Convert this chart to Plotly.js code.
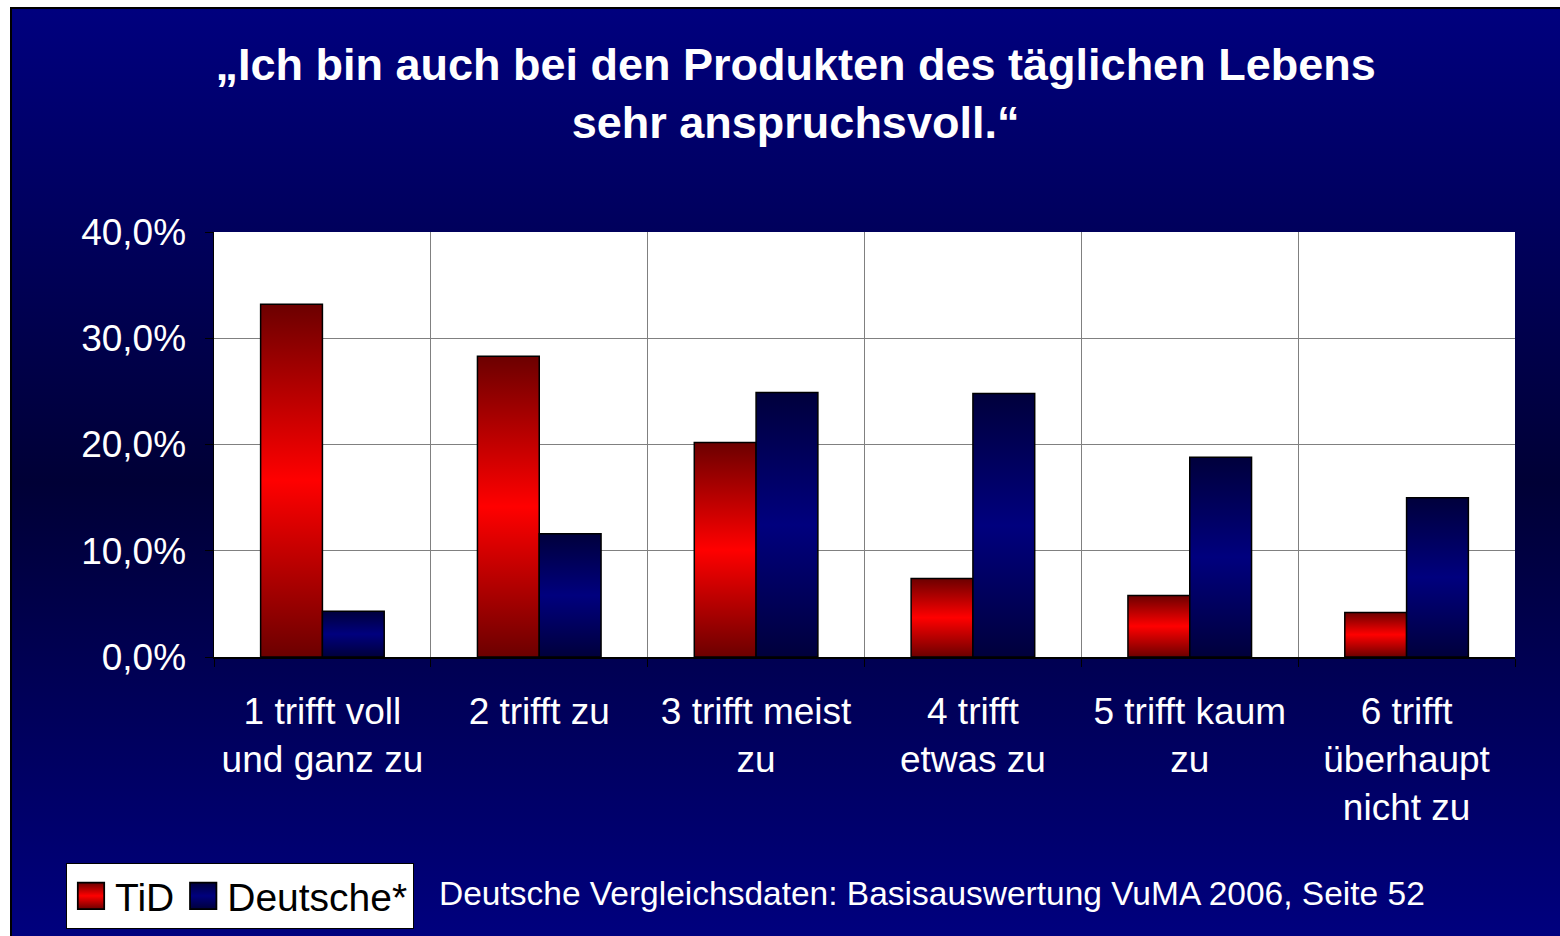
<!DOCTYPE html>
<html><head><meta charset="utf-8">
<script src="https://cdn.plot.ly/plotly-3.0.1.min.js"></script>
<style>
html,body{margin:0;padding:0;background:#fff;width:1560px;height:936px;overflow:hidden;}
#bg{position:absolute;left:10px;top:7px;width:1550px;height:929px;box-sizing:border-box;border-top:2px solid #000;border-left:2px solid #000;background:linear-gradient(to bottom,#00007e 0%,#000036 51%,#00007e 100%);}
#chart{position:absolute;left:0;top:0;width:1560px;height:936px;}
</style></head><body>
<div id="bg"></div><div id="chart"></div>
<script>
const categories = [
  '1 trifft voll<br>und ganz zu',
  '2 trifft zu',
  '3 trifft meist<br>zu',
  '4 trifft<br>etwas zu',
  '5 trifft kaum<br>zu',
  '6 trifft<br>überhaupt<br>nicht zu'
];
const seriesNames = ['TiD', 'Deutsche*'];
const tidValues = [0.332, 0.283, 0.202, 0.074, 0.058, 0.042];
const deutscheValues = [0.043, 0.116, 0.249, 0.248, 0.188, 0.150];
const yTickValues = [0, 0.1, 0.2, 0.3, 0.4];
const yTickLabels = ['0,0%', '10,0%', '20,0%', '30,0%', '40,0%'];
const titleText = '„Ich bin auch bei den Produkten des täglichen Lebens<br>sehr anspruchsvoll.“';
const footnoteText = 'Deutsche Vergleichsdaten: Basisauswertung VuMA 2006, Seite 52';

const FONT = 'Liberation Sans, Arial, sans-serif';

const data = [
  {type:'bar', name:seriesNames[0], x:categories, y:tidValues,
   marker:{color:'#e00000', line:{color:'#000', width:1.5}}},
  {type:'bar', name:seriesNames[1], x:categories, y:deutscheValues,
   marker:{color:'#000070', line:{color:'#000', width:1.5}}}
];

const layout = {
  width:1560, height:936,
  paper_bgcolor:'rgba(0,0,0,0)', plot_bgcolor:'#ffffff',
  margin:{l:214, r:45, t:232, b:279, pad:0},
  barmode:'group', bargap:0.43, bargroupgap:0,
  hovermode:false,
  font:{family:FONT, color:'#ffffff'},
  title:{text:titleText, font:{family:FONT, size:45, color:'#ffffff', weight:'bold'},
         x:0.51, xref:'container', xanchor:'center', y:0.915, yref:'container', yanchor:'top'},
  xaxis:{type:'category', tickson:'boundaries', ticks:'outside', ticklen:8, tickcolor:'#000',
         showgrid:true, gridcolor:'#808080', gridwidth:1,
         showline:true, linecolor:'#000', linewidth:1.5,
         tickfont:{family:FONT, size:37, color:'#ffffff'}, ticklabelstandoff:21, automargin:false},
  yaxis:{range:[0,0.4], tickvals:yTickValues, ticktext:yTickLabels, ticks:'outside', ticklen:8, tickcolor:'#000',
         showgrid:true, gridcolor:'#808080', gridwidth:1, zeroline:false,
         showline:true, linecolor:'#000', linewidth:1.5,
         tickfont:{family:FONT, size:37, color:'#ffffff'}, ticklabelstandoff:11, automargin:false},
  showlegend:true,
  legend:{orientation:'h', xref:'container', yref:'container', x:66/1560, y:1-863/936,
          xanchor:'left', yanchor:'top', bgcolor:'#ffffff', bordercolor:'#000', borderwidth:1,
          font:{family:FONT, size:39, color:'#000000'}, traceorder:'normal', itemwidth:38},
  annotations:[{text:footnoteText, xref:'paper', yref:'paper', x:(437-214)/1301, y:(657-893)/425,
                xanchor:'left', yanchor:'middle', showarrow:false,
                font:{family:FONT, size:33.5, color:'#ffffff'}}]
};

Plotly.newPlot('chart', data, layout, {staticPlot:true, displayModeBar:false}).then(gd => {
  const ns = 'http://www.w3.org/2000/svg';
  const svg = gd.querySelector('svg.main-svg');
  let defs = svg.querySelector('defs');
  if (!defs) { defs = document.createElementNS(ns,'defs'); svg.insertBefore(defs, svg.firstChild); }
  function grad(id, stops) {
    const lg = document.createElementNS(ns,'linearGradient');
    lg.setAttribute('id', id);
    lg.setAttribute('x1','0'); lg.setAttribute('y1','0'); lg.setAttribute('x2','0'); lg.setAttribute('y2','1');
    stops.forEach(([o,c]) => { const s = document.createElementNS(ns,'stop'); s.setAttribute('offset',o); s.setAttribute('stop-color',c); lg.appendChild(s); });
    defs.appendChild(lg);
  }
  grad('gradRed', [['0','#6c0000'],['0.5','#ff0000'],['1','#6c0000']]);
  grad('gradBlue', [['0','#00003c'],['0.5','#00007e'],['1','#00003c']]);
  const ids = ['gradRed','gradBlue'];
  gd.querySelectorAll('.barlayer .trace').forEach((t,i) => {
    t.querySelectorAll('path').forEach(p => { p.style.fill = 'url(#' + ids[i] + ')'; });
  });
  gd.querySelectorAll('.legend .traces').forEach((t,i) => {
    t.querySelectorAll('.legendpoints path').forEach(p => {
      p.style.fill = 'url(#' + ids[i] + ')';
      const orig = p.getAttribute('transform') || '';
      p.setAttribute('transform', orig + ' scale(2.2)');
      p.style.strokeWidth = '0.8px';
    });
  });
});
</script>
</body></html>
